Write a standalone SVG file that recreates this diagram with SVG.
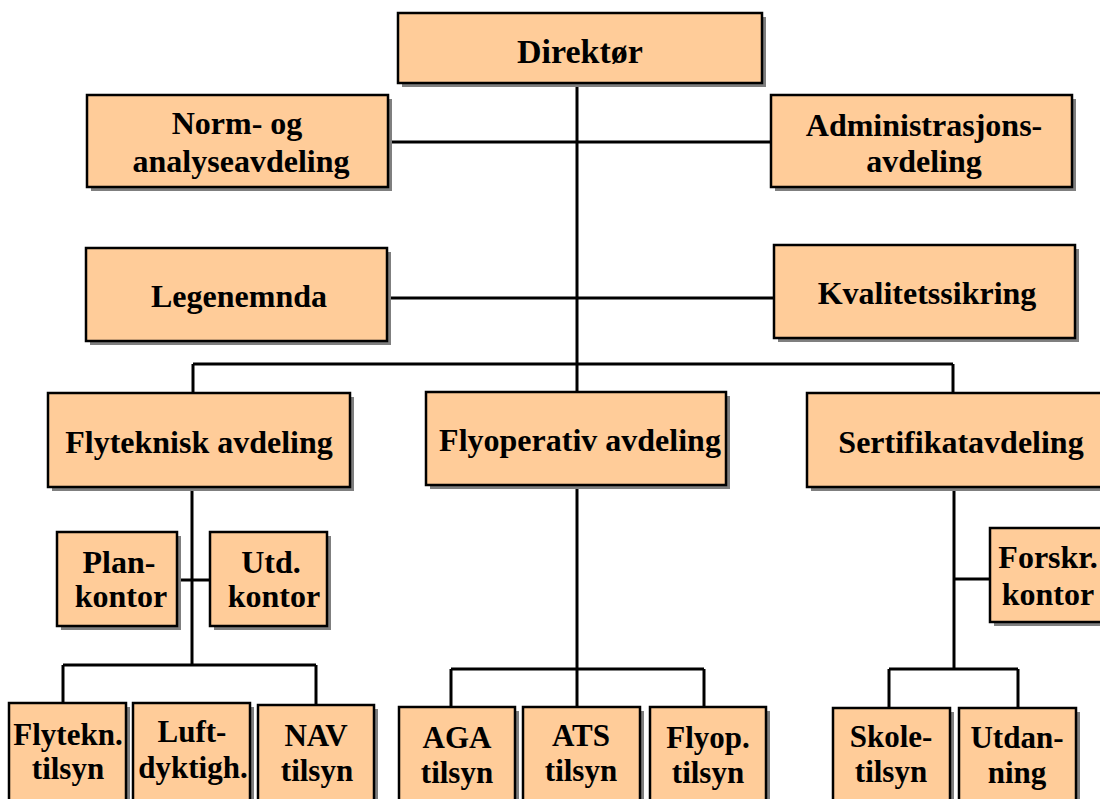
<svg xmlns="http://www.w3.org/2000/svg" width="1100" height="799" viewBox="0 0 1100 799">
<style>
.sh{fill:#7f7f7f;stroke:none}
.bx{fill:#FFCC99;stroke:#000;stroke-width:2.5}
.c line{stroke:#000;stroke-width:3;fill:none}
.s{font-size:31px}
</style>
<rect width="1100" height="799" fill="#fff"/>
<g class="c" id="connectors">
<line x1="577" y1="83" x2="577" y2="392"/>
<line x1="388" y1="142" x2="771" y2="142"/>
<line x1="387" y1="298" x2="774" y2="298"/>
<line x1="193" y1="364" x2="953" y2="364"/>
<line x1="193" y1="364" x2="193" y2="393"/>
<line x1="953" y1="364" x2="953" y2="393"/>
<line x1="192" y1="487" x2="192" y2="665"/>
<line x1="177" y1="580" x2="210" y2="580"/>
<line x1="63" y1="665" x2="316" y2="665"/>
<line x1="63" y1="665" x2="63" y2="703"/>
<line x1="316" y1="665" x2="316" y2="705"/>
<line x1="577" y1="485" x2="577" y2="707"/>
<line x1="451" y1="669" x2="704" y2="669"/>
<line x1="451" y1="669" x2="451" y2="707"/>
<line x1="704" y1="669" x2="704" y2="707"/>
<line x1="954" y1="487" x2="954" y2="669"/>
<line x1="954" y1="579" x2="990" y2="579"/>
<line x1="889" y1="669" x2="1018" y2="669"/>
<line x1="889" y1="669" x2="889" y2="708"/>
<line x1="1018" y1="669" x2="1018" y2="708"/>
</g>
<g font-family="'Liberation Serif', 'DejaVu Serif', serif" font-weight="bold" font-size="32" fill="#000" text-anchor="middle">
<g id="direktor"><rect class="sh" x="402" y="17" width="364" height="70"/><rect class="bx" x="398" y="13" width="364" height="70"/><text x="580" y="63" font-size="34">Direktør</text></g>
<g id="norm"><rect class="sh" x="91" y="99" width="301" height="92"/><rect class="bx" x="87" y="95" width="301" height="92"/><text x="237" y="134">Norm- og</text><text x="241" y="172">analyseavdeling</text></g>
<g id="admin"><rect class="sh" x="775" y="99" width="301" height="92"/><rect class="bx" x="771" y="95" width="301" height="92"/><text x="924" y="136">Administrasjons-</text><text x="924" y="172">avdeling</text></g>
<g id="legenemnda"><rect class="sh" x="90" y="252" width="301" height="93"/><rect class="bx" x="86" y="248" width="301" height="93"/><text x="239" y="307">Legenemnda</text></g>
<g id="kvalitet"><rect class="sh" x="778" y="249" width="301" height="93"/><rect class="bx" x="774" y="245" width="301" height="93"/><text x="927" y="304">Kvalitetssikring</text></g>
<g id="flyteknisk"><rect class="sh" x="52" y="397" width="302" height="94"/><rect class="bx" x="48" y="393" width="302" height="94"/><text x="199" y="453">Flyteknisk avdeling</text></g>
<g id="flyoperativ"><rect class="sh" x="430" y="396" width="300" height="93"/><rect class="bx" x="426" y="392" width="300" height="93"/><text x="580" y="451">Flyoperativ avdeling</text></g>
<g id="sertifikat"><rect class="sh" x="811" y="397" width="302" height="94"/><rect class="bx" x="807" y="393" width="302" height="94"/><text x="961" y="453">Sertifikatavdeling</text></g>
<g id="plankontor"><rect class="sh" x="61" y="536" width="120" height="94"/><rect class="bx" x="57" y="532" width="120" height="94"/><text x="119" y="573">Plan-</text><text x="121" y="607">kontor</text></g>
<g id="utdkontor"><rect class="sh" x="214" y="536" width="117" height="94"/><rect class="bx" x="210" y="532" width="117" height="94"/><text x="271" y="573">Utd.</text><text x="274" y="607">kontor</text></g>
<g id="forskr"><rect class="sh" x="994" y="532" width="116" height="94"/><rect class="bx" x="990" y="528" width="116" height="94"/><text x="1048" y="568">Forskr.</text><text x="1048" y="605">kontor</text></g>
<g id="flytekn"><rect class="sh" x="13" y="707" width="117" height="100"/><rect class="bx" x="9" y="703" width="117" height="100"/><text class="s" x="68" y="745">Flytekn.</text><text class="s" x="68" y="779">tilsyn</text></g>
<g id="luft"><rect class="sh" x="137" y="707" width="117" height="100"/><rect class="bx" x="133" y="703" width="117" height="100"/><text class="s" x="192" y="742">Luft-</text><text class="s" x="193" y="778">dyktigh.</text></g>
<g id="nav"><rect class="sh" x="262" y="709" width="116" height="100"/><rect class="bx" x="258" y="705" width="116" height="100"/><text class="s" x="316" y="746">NAV</text><text class="s" x="317" y="781">tilsyn</text></g>
<g id="aga"><rect class="sh" x="403" y="711" width="116" height="100"/><rect class="bx" x="399" y="707" width="116" height="100"/><text class="s" x="457" y="748">AGA</text><text class="s" x="457" y="783">tilsyn</text></g>
<g id="ats"><rect class="sh" x="527" y="711" width="117" height="100"/><rect class="bx" x="523" y="707" width="117" height="100"/><text class="s" x="581" y="746">ATS</text><text class="s" x="581" y="781">tilsyn</text></g>
<g id="flyop"><rect class="sh" x="654" y="711" width="116" height="100"/><rect class="bx" x="650" y="707" width="116" height="100"/><text class="s" x="708" y="748">Flyop.</text><text class="s" x="708" y="783">tilsyn</text></g>
<g id="skole"><rect class="sh" x="837" y="712" width="117" height="100"/><rect class="bx" x="833" y="708" width="117" height="100"/><text class="s" x="891" y="747">Skole-</text><text class="s" x="891" y="782">tilsyn</text></g>
<g id="utdanning"><rect class="sh" x="963" y="712" width="117" height="100"/><rect class="bx" x="959" y="708" width="117" height="100"/><text class="s" x="1017" y="748">Utdan-</text><text class="s" x="1017" y="783">ning</text></g>
</g>
</svg>
